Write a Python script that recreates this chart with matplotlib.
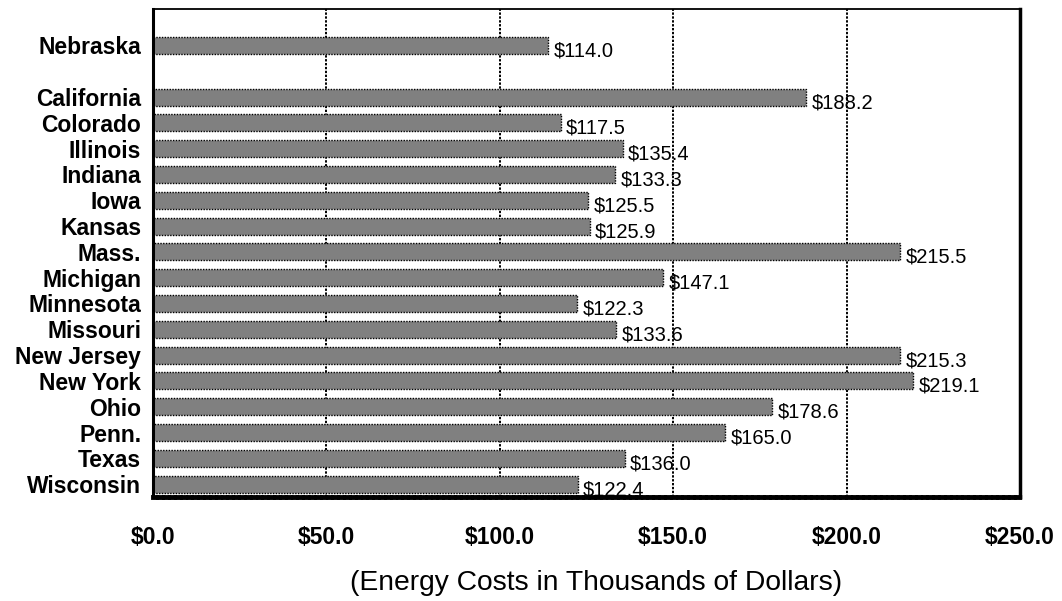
import matplotlib
matplotlib.use("Agg")
import matplotlib.pyplot as plt

states = ["Nebraska", "California", "Colorado", "Illinois", "Indiana", "Iowa",
          "Kansas", "Mass.", "Michigan", "Minnesota", "Missouri", "New Jersey",
          "New York", "Ohio", "Penn.", "Texas", "Wisconsin"]
costs = [114.0, 188.2, 117.5, 135.4, 133.3, 125.5, 125.9, 215.5, 147.1,
         122.3, 133.6, 215.3, 219.1, 178.6, 165.0, 136.0, 122.4]
xticks = [0, 50, 100, 150, 200, 250]
xlabel = "(Energy Costs in Thousands of Dollars)"

plt.rcParams['font.family'] = ['Liberation Sans', 'DejaVu Sans']

fig = plt.figure(figsize=(10.62, 6.01), dpi=100)
ax = fig.add_axes([0.1441, 0.1730, 0.9605 - 0.1441, 0.985 - 0.1730])

n = len(states)
# Wisconsin at 0 upward; gap of one slot between Nebraska and the rest
pos = []
for i in range(n):
    p = n - 1 - i
    if i == 0:
        p += 1
    pos.append(p)

ax.barh(pos, costs, height=0.66, color="#808080", edgecolor="black",
        linewidth=1.0, linestyle=(0, (1, 1)), zorder=3)

for p, v in zip(pos, costs):
    ax.annotate(f"${v:.1f}", xy=(v, p), xytext=(4, -4), textcoords="offset points",
                ha="left", va="center", fontsize=14.5, color="black", zorder=4)

ax.set_xlim(0, 250)
ax.set_ylim(-0.5, 18.41)
ax.set_yticks(pos)
ax.set_yticklabels(states, fontsize=16.5, fontweight="bold")
ax.set_xticks(xticks)
ax.set_xticklabels([f"${t:.1f}" for t in xticks], fontsize=16.5, fontweight="bold")
ax.tick_params(axis="y", length=0, pad=8.5)
ax.tick_params(axis="x", length=0, pad=21)
ax.set_xlabel(xlabel, fontsize=20.3, labelpad=15)
ax.xaxis.label.set_x(0.511)

ax.xaxis.grid(True, color="black", linestyle=(0, (1.2, 0.8)), linewidth=1.4, zorder=1)
ax.set_axisbelow(True)

ax.spines["left"].set_linewidth(2.2)
ax.spines["left"].set_color("black")
ax.spines["top"].set_linestyle((0, (1, 1)))
ax.spines["top"].set_linewidth(1.3)
ax.spines["right"].set_linestyle((0, (1, 1)))
ax.spines["right"].set_linewidth(2.5)
ax.spines["bottom"].set_linestyle((0, (0.6, 0.6)))
ax.spines["bottom"].set_linewidth(3.5)
for s in ax.spines.values():
    s.set_zorder(5)

fig.savefig("out.png", dpi=100)
